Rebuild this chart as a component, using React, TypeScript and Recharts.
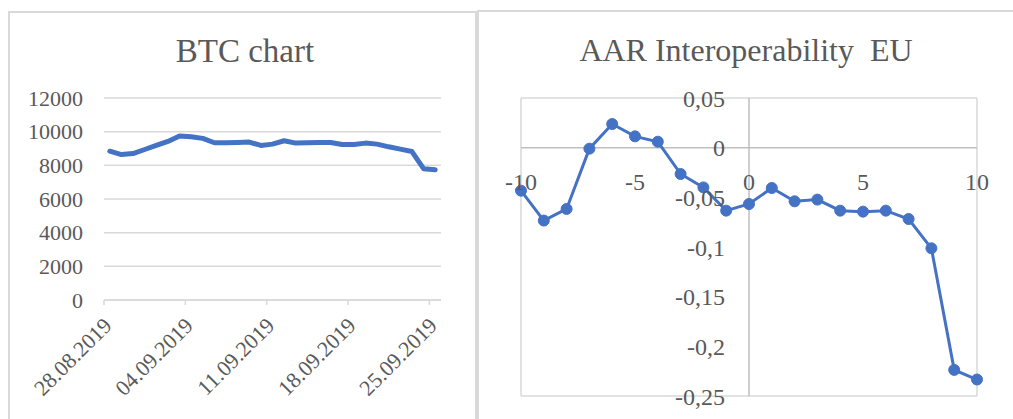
import React from 'react';
import {
  CartesianGrid,
  Line,
  LineChart,
  ReferenceDot,
  ReferenceLine,
  XAxis,
  YAxis,
} from 'recharts';

// BTC chart
const btcDates = [
  '28.08.2019', '29.08.2019', '30.08.2019', '31.08.2019', '01.09.2019', '02.09.2019',
  '03.09.2019', '04.09.2019', '05.09.2019', '06.09.2019', '07.09.2019', '08.09.2019',
  '09.09.2019', '10.09.2019', '11.09.2019', '12.09.2019', '13.09.2019', '14.09.2019',
  '15.09.2019', '16.09.2019', '17.09.2019', '18.09.2019', '19.09.2019', '20.09.2019',
  '21.09.2019', '22.09.2019', '23.09.2019', '24.09.2019', '25.09.2019',
];
const btcPrices = [
  8840, 8640, 8700, 8940, 9180, 9420, 9740, 9700, 9600, 9340,
  9340, 9360, 9380, 9180, 9260, 9460, 9320, 9340, 9360, 9360,
  9240, 9240, 9320, 9260, 9100, 8960, 8820, 7800, 7740,
];
const btcTickLabels = ['28.08.2019', '04.09.2019', '11.09.2019', '18.09.2019', '25.09.2019'];
const btcYTicks = [0, 2000, 4000, 6000, 8000, 10000, 12000];

// AAR Interoperability EU
const aarDays = [-10, -9, -8, -7, -6, -5, -4, -3, -2, -1, 0, 1, 2, 3, 4, 5, 6, 7, 8, 9, 10];
const aarValues = [
  -0.0433, -0.0734, -0.0617, -0.001, 0.0238, 0.0114, 0.006, -0.0265, -0.04, -0.0634,
  -0.0567, -0.0406, -0.054, -0.0523, -0.0634, -0.0644, -0.0634, -0.0718, -0.1013,
  -0.2237, -0.2334,
];
const aarXTicks = [-10, -5, 0, 5, 10];
const aarYTicks = [0.05, 0, -0.05, -0.1, -0.15, -0.2, -0.25];

const FONT = '"Liberation Serif", "Times New Roman", serif';
const TEXT = '#595959';
const GRID = '#d9d9d9';
const BLUE = '#4472c4';

const btcData = btcDates.map((d, i) => ({ day: i, date: d, price: btcPrices[i] }));
const aarData = aarDays.map((d, i) => ({ day: d, aar: aarValues[i] }));

const fmtComma = (v: number) => String(v).replace('.', ',');

function DateTick(props: any) {
  const { x, y, index } = props;
  const tx = x + 9;
  const ty = y + 20;
  return (
    <text
      x={tx}
      y={ty}
      transform={`rotate(-45 ${tx} ${ty})`}
      textAnchor="end"
      fill={TEXT}
      fontSize={22}
      fontFamily={FONT}
    >
      {btcTickLabels[index]}
    </text>
  );
}

export default function App() {
  return (
    <div style={{ position: 'absolute', left: 0, top: 0, width: 1013, height: 419, background: '#fff', overflow: 'hidden' }}>
      <svg width={1013} height={419} style={{ position: 'absolute', left: 0, top: 0 }}>
        <rect x={9} y={12} width={467} height={420} fill="none" stroke={GRID} strokeWidth={2} />
        <rect x={478} y={11} width={560} height={420} fill="none" stroke={GRID} strokeWidth={2} />
        <text x={245} y={62} textAnchor="middle" fill={TEXT} fontSize={33} fontFamily={FONT}>
          BTC chart
        </text>
        <text x={746} y={61} textAnchor="middle" fill={TEXT} fontSize={32} fontFamily={FONT} style={{ whiteSpace: 'pre' }}>
          AAR Interoperability  EU
        </text>
      </svg>

      <div style={{ position: 'absolute', left: 0, top: 0 }}>
        <LineChart width={476} height={419} data={btcData} margin={{ top: 98, right: 35, bottom: 9, left: 24 }}>
          <CartesianGrid vertical={false} stroke={GRID} strokeWidth={1.5} />
          <XAxis
            dataKey="day"
            type="number"
            domain={[-0.5, 28.5]}
            ticks={[-0.5, 6.5, 13.5, 20.5, 27.5]}
            interval={0}
            height={110}
            axisLine={{ stroke: GRID, strokeWidth: 1.5 }}
            tickLine={{ stroke: GRID, strokeWidth: 1.5 }}
            tickSize={5}
            tick={<DateTick />}
          />
          <YAxis
            domain={[0, 12000]}
            ticks={btcYTicks}
            interval={0}
            width={80}
            axisLine={false}
            tickLine={false}
            tickSize={0}
            tickMargin={21}
            tick={{ fill: TEXT, fontSize: 22, fontFamily: FONT }}
          />
          <Line
            type="linear"
            dataKey="price"
            stroke={BLUE}
            strokeWidth={5}
            strokeLinejoin="round"
            strokeLinecap="round"
            dot={false}
            isAnimationActive={false}
          />
        </LineChart>
      </div>

      <div style={{ position: 'absolute', left: 478, top: 0 }}>
        <LineChart width={535} height={419} data={aarData} margin={{ top: 98, right: 36, bottom: 23, left: 43 }}>
          <CartesianGrid stroke={GRID} strokeWidth={1.5} />
          <XAxis
            dataKey="day"
            type="number"
            domain={[-10, 10]}
            ticks={aarXTicks}
            interval={0}
            height={0}
            axisLine={false}
            tickLine={false}
            tick={false}
          />
          <YAxis
            domain={[-0.25, 0.05]}
            ticks={aarYTicks}
            interval={0}
            width={0}
            axisLine={false}
            tickLine={false}
            tick={false}
          />
          <ReferenceLine x={0} stroke="#bfbfbf" strokeWidth={1.5} />
          <ReferenceLine y={0} stroke="#bfbfbf" strokeWidth={1.5} />
          {aarXTicks.map((t) => (
            <ReferenceDot
              key={`x${t}`}
              x={t}
              y={0}
              r={1}
              fill="none"
              stroke="none"
              label={{ value: String(t), position: 'bottom', offset: 24, fill: TEXT, fontSize: 24, fontFamily: FONT }}
            />
          ))}
          {aarYTicks.map((t) => (
            <ReferenceDot
              key={`y${t}`}
              x={0}
              y={t}
              r={1}
              fill="none"
              stroke="none"
              label={{ value: fmtComma(t), position: 'left', offset: 23, fill: TEXT, fontSize: 24, fontFamily: FONT }}
            />
          ))}
          <Line
            type="linear"
            dataKey="aar"
            stroke={BLUE}
            strokeWidth={3}
            dot={{ r: 5.5, fill: BLUE, stroke: BLUE, strokeWidth: 1 }}
            isAnimationActive={false}
          />
        </LineChart>
      </div>
    </div>
  );
}
